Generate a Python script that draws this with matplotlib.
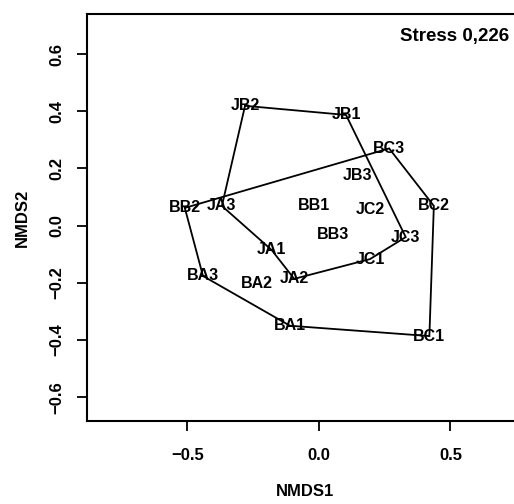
import matplotlib
matplotlib.use("Agg")
import matplotlib.pyplot as plt

sites = ["JB2", "JB1", "BC3", "JB3", "BB1", "JC2", "BC2", "JA1", "BB3",
         "JC3", "JC1", "JA2", "BA2", "BA1", "BC1", "BA3", "BB2", "JA3"]
nmds1 = [-0.281, 0.103, 0.267, 0.147, -0.019, 0.195, 0.437, -0.180, 0.052,
         0.330, 0.194, -0.094, -0.237, -0.110, 0.420, -0.441, -0.510, -0.369]
nmds2 = [0.419, 0.387, 0.270, 0.174, 0.069, 0.057, 0.069, -0.085, -0.030,
         -0.040, -0.117, -0.186, -0.204, -0.350, -0.386, -0.176, 0.062, 0.069]
hull_j = ["JB2", "JB1", "JC3", "JC1", "JA2", "JA1", "JA3"]
hull_b = ["BB2", "BC3", "BC2", "BC1", "BA1", "BA3"]
stress_label = "Stress 0,226"
xticks = [-0.5, 0.0, 0.5]
yticks = [-0.6, -0.4, -0.2, 0.0, 0.2, 0.4, 0.6]

plt.rcParams['font.family'] = ['Liberation Sans', 'DejaVu Sans']
plt.rcParams['font.weight'] = 'bold'
plt.rcParams['axes.unicode_minus'] = True

fig = plt.figure(figsize=(5.14, 5.04), dpi=100)
ax = fig.add_axes([87/514, 83/504, 436/514, 407/504])

pos = {s: (x, y) for s, x, y in zip(sites, nmds1, nmds2)}
for hull in (hull_j, hull_b):
    xs = [pos[s][0] for s in hull] + [pos[hull[0]][0]]
    ys = [pos[s][1] for s in hull] + [pos[hull[0]][1]]
    ax.plot(xs, ys, color='black', lw=1.3, solid_joinstyle='miter')

for s, x, y in zip(sites, nmds1, nmds2):
    ax.text(x, y, s, ha='center', va='center', fontsize=11.5,
            fontweight='bold')

ax.set_xlim(-0.882, 0.776)
ax.set_ylim(-0.683, 0.740)
ax.set_xticks(xticks)
ax.set_xticklabels([f"{v:.1f}".replace('-', '\u2212') for v in xticks])
ax.set_yticks(yticks)
ax.set_yticklabels([f"{v:.1f}".replace('-', '\u2212') for v in yticks],
                   rotation=90, va='center')
ax.tick_params(axis='both', length=7.2, width=1.3, labelsize=12)
ax.tick_params(axis='x', pad=12)
ax.tick_params(axis='y', pad=9)
for sp in ax.spines.values():
    sp.set_linewidth(1.5)

ax.set_xlabel("NMDS1", fontsize=12, fontweight='bold', labelpad=15)
ax.set_ylabel("NMDS2", fontsize=12, fontweight='bold', labelpad=14)

fig.text(509/514, 1 - 36.5/504, stress_label, ha='right', va='center',
         fontsize=13.5, fontweight='bold')

fig.savefig("out.png", dpi=100)
